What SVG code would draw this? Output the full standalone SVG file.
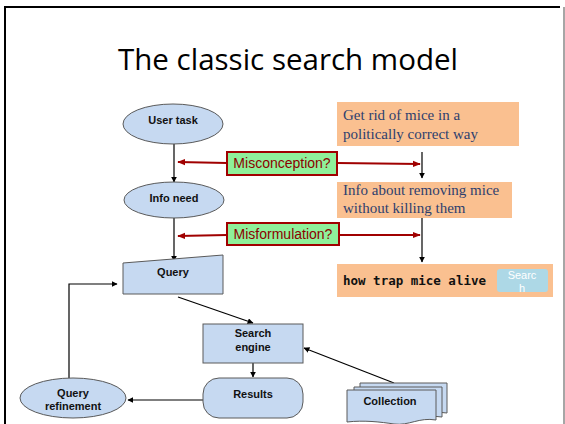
<svg xmlns="http://www.w3.org/2000/svg" width="565" height="424" viewBox="0 0 565 424">
<defs>
<marker id="ah" viewBox="0 0 10 10" refX="9" refY="5" markerWidth="5" markerHeight="5" orient="auto"><path d="M0,0 L10,5 L0,10 z" fill="#000"/></marker>
<marker id="rh" viewBox="0 0 10 10" refX="9" refY="5" markerWidth="4" markerHeight="4" orient="auto"><path d="M0,1 L10,5 L0,9 z" fill="#A00000"/></marker>
<style>
.n{fill:#C6D9F1;stroke:#5a5a5a;stroke-width:1}
.nt{font-family:"Liberation Sans",Arial,sans-serif;font-weight:bold;font-size:11px;fill:#111;text-anchor:middle}
.ob{fill:#FAC090}
.ot{font-family:"Liberation Serif","Times New Roman",serif;font-size:15px;fill:#2E3F6E}
.gb{fill:#8FF09A;stroke:#A00000;stroke-width:2}
.gt{font-family:"Liberation Sans",Arial,sans-serif;font-size:14px;fill:#8B0000;text-anchor:middle}
.c{stroke:#000;stroke-width:1.2;fill:none;marker-end:url(#ah)}
.r{stroke:#A00000;stroke-width:2;fill:none;marker-end:url(#rh)}
</style>
</defs>
<rect width="565" height="424" fill="#fff"/>
<g id="frame">
<path d="M5,424 V7 H560" fill="none" stroke="#000" stroke-width="2"/>
<path d="M564,7 V424" fill="none" stroke="#888" stroke-width="1.5"/>
</g>
<text x="288" y="70" font-family="'Open Sans','Liberation Sans',sans-serif" font-size="29.5" fill="#000" text-anchor="middle">The classic search model</text>

<g id="connectors">
<path class="c" d="M174,144 V182"/>
<path class="c" d="M174,217 V261"/>
<path class="c" d="M178,297 L253,323"/>
<path class="c" d="M253,363 V377"/>
<path class="c" d="M203,400 H128"/>
<path class="c" d="M69,378 V284 H117"/>
<path class="c" d="M394,383 L304,348"/>
<path class="c" d="M422,152 V178"/>
<path class="c" d="M422,218 V262"/>
<path class="r" d="M227,163 L178,162"/>
<path class="r" d="M337,163 L420,164"/>
<path class="r" d="M227,235 L178,236"/>
<path class="r" d="M339,235 L420,235"/>
</g>

<g id="user-task">
<ellipse class="n" cx="173" cy="124" rx="50" ry="20"/>
<text class="nt" x="173" y="124">User task</text>
</g>
<g id="info-need">
<ellipse class="n" cx="174" cy="200" rx="50" ry="18"/>
<text class="nt" x="174" y="202">Info need</text>
</g>
<g id="query">
<polygon class="n" points="123,263 223,255 223,294 123,294"/>
<text class="nt" x="173" y="276">Query</text>
</g>
<g id="search-engine">
<rect class="n" x="203" y="324" width="100" height="39"/>
<text class="nt" x="253" y="337">Search</text>
<text class="nt" x="253" y="351">engine</text>
</g>
<g id="results">
<rect class="n" x="203" y="378" width="100" height="40" rx="16" ry="16"/>
<text class="nt" x="253" y="398">Results</text>
</g>
<g id="query-refinement">
<ellipse class="n" cx="73" cy="398" rx="53" ry="20"/>
<text class="nt" x="73" y="397">Query</text>
<text class="nt" x="73" y="410">refinement</text>
</g>
<g id="collection">
<path class="n" d="M360,383 H447 V413 C430,410 420,420 405,417 C392,415 375,413 360,415 Z"/>
<path class="n" d="M354,387 H442 V417 C425,414 415,424 400,421 C387,419 370,417 354,419 Z"/>
<path class="n" d="M347,390 H436 V420 C419,417 409,426 394,424 C381,422 364,420 347,422 Z"/>
<text class="nt" x="390" y="405">Collection</text>
</g>

<g id="goal">
<rect class="ob" x="337" y="102" width="182" height="44"/>
<text class="ot" x="343" y="120">Get rid of mice in a</text>
<text class="ot" x="343" y="139">politically correct way</text>
</g>
<g id="info-text">
<rect class="ob" x="337" y="182" width="175" height="36"/>
<text class="ot" x="343" y="195">Info about removing mice</text>
<text class="ot" x="343" y="213">without killing them</text>
</g>
<g id="query-box">
<rect class="ob" x="337" y="264" width="216" height="33"/>
<text x="343" y="285" font-family="'DejaVu Sans Mono','Liberation Mono',monospace" font-weight="bold" font-size="12.5" fill="#111">how trap mice alive</text>
<rect x="497" y="269" width="51" height="23" rx="3" fill="#ADD8E6"/>
<text x="522" y="279" font-family="'Liberation Sans',Arial,sans-serif" font-size="11" fill="#fff" text-anchor="middle">Searc</text>
<text x="522" y="292" font-family="'Liberation Sans',Arial,sans-serif" font-size="11" fill="#fff" text-anchor="middle">h</text>
</g>

<g id="misconception">
<rect class="gb" x="227" y="152" width="110" height="23"/>
<text class="gt" x="282" y="168">Misconception?</text>
</g>
<g id="misformulation">
<rect class="gb" x="227" y="223" width="112" height="22"/>
<text class="gt" x="283" y="239">Misformulation?</text>
</g>
</svg>
